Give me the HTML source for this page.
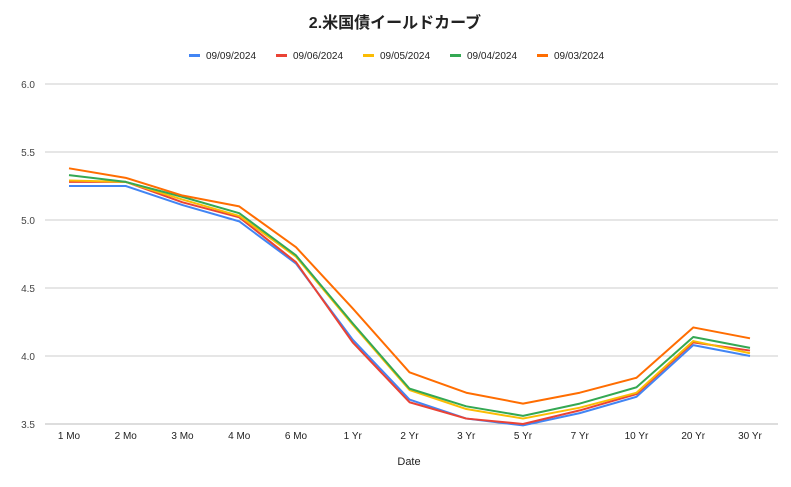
<!DOCTYPE html>
<html><head><meta charset="utf-8"><style>
body{margin:0;background:#fff;font-family:"Liberation Sans","Noto Sans CJK JP",sans-serif;}
svg text{font-family:"Liberation Sans","Noto Sans CJK JP",sans-serif;}
</style></head><body>
<svg id="chart" width="791" height="482" xmlns="http://www.w3.org/2000/svg">
<rect width="791" height="482" fill="#fff"/>
<text x="395" y="28" text-anchor="middle" font-size="16" font-weight="bold" fill="#222">2.米国債イールドカーブ</text>
<g id="grid"></g><g id="lines"></g><g id="legend"></g>
<text x="409" y="465" text-anchor="middle" font-size="11" fill="#222">Date</text>
</svg>
<script>
const categories=["1 Mo","2 Mo","3 Mo","4 Mo","6 Mo","1 Yr","2 Yr","3 Yr","5 Yr","7 Yr","10 Yr","20 Yr","30 Yr"];
const seriesNames=["09/09/2024","09/06/2024","09/05/2024","09/04/2024","09/03/2024"];
const s0909=[5.25,5.25,5.11,4.99,4.68,4.12,3.68,3.54,3.49,3.58,3.70,4.08,4.00];
const s0906=[5.28,5.28,5.13,5.02,4.69,4.10,3.66,3.54,3.50,3.60,3.72,4.10,4.04];
const s0905=[5.29,5.28,5.15,5.03,4.73,4.23,3.75,3.61,3.54,3.62,3.73,4.11,4.02];
const s0904=[5.33,5.28,5.17,5.05,4.74,4.24,3.76,3.63,3.56,3.65,3.77,4.14,4.06];
const s0903=[5.38,5.31,5.18,5.10,4.80,4.35,3.88,3.73,3.65,3.73,3.84,4.21,4.13];
const yTicks=["3.5","4.0","4.5","5.0","5.5","6.0"];
const series=[s0909,s0906,s0905,s0904,s0903];
const colors=["#4285f4","#ea4335","#fbbc04","#34a853","#ff6d01"];
const NS="http://www.w3.org/2000/svg";
const x=i=>69+i*(750-69)/(categories.length-1);
const y=v=>424-(v-3.5)*136;
function mk(t,a,p){const e=document.createElementNS(NS,t);for(const k in a)e.setAttribute(k,a[k]);p.appendChild(e);return e;}
const grid=document.getElementById('grid');
yTicks.forEach(t=>{const v=parseFloat(t);
 const l=mk('line',{x1:45,x2:778,y1:y(v),y2:y(v),stroke:v===3.5?'#bbb':'#ccc','stroke-width':1},grid);
 
 
 const tx=mk('text',{x:35,y:y(v)+4,'text-anchor':'end','font-size':10,fill:'#444'},grid);tx.textContent=t;
 
 
});
categories.forEach((c,i)=>{const tx=mk('text',{x:x(i),y:439,'text-anchor':'middle','font-size':10,fill:'#222'},grid);tx.textContent=c;
 
 
});
const lines=document.getElementById('lines');
series.forEach((s,k)=>{const p=mk('polyline',{points:s.map((v,i)=>x(i)+','+y(v)).join(' '),fill:'none',stroke:colors[k],'stroke-width':2,'stroke-linejoin':'round'},lines);
 
 
});
const lg=document.getElementById('legend');
const lx=[189,276,363,450,537];
seriesNames.forEach((n,k)=>{const g=mk('g',{},lg);
 
 
 mk('rect',{x:lx[k],y:54,width:11,height:3,fill:colors[k]},g);
 const t=mk('text',{x:lx[k]+17,y:59,'font-size':10,fill:'#222'},g);t.textContent=n;
});
</script>
</body></html>
